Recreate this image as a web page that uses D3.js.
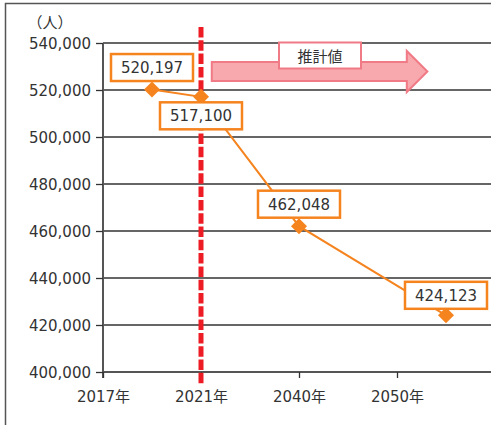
<!DOCTYPE html>
<html>
<head>
<meta charset="utf-8">
<script src="https://cdn.jsdelivr.net/npm/d3@7"></script>
<style>
  body { margin: 0; background: #fff; }
  text { font-family: "DejaVu Sans", "Noto Sans CJK JP", sans-serif; fill: #333; }
</style>
</head>
<body>
<div id="root"></div>
<script>
// データ
var tickLabels = ['2017年', '2021年', '2040年', '2050年']
var tickPos = [0, 2, 4, 6]
var pointPos = [1, 2, 4, 7]
var values = [520197, 517100, 462048, 424123]
var yTicks = [400000, 420000, 440000, 460000, 480000, 500000, 520000, 540000]

var width = 491, height = 425
var svg = d3.select('#root').append('svg')
    .attr('width', width)
    .attr('height', height)

// 外枠
svg.append('rect')
    .attr('x', 5.5).attr('y', 3.5)
    .attr('width', 600).attr('height', 600)
    .attr('fill', 'none').attr('stroke', '#555').attr('stroke-width', 1.5)

var plotLeft = 103, plotRight = 491, plotTop = 43, plotBottom = 372
var X = d3.scaleLinear().domain([0, 7]).range([plotLeft, 446])
var Y = d3.scaleLinear().domain([400000, 540000]).range([plotBottom, plotTop])

// グリッド
svg.append('g').selectAll('line')
    .data(yTicks)
    .enter().append('line')
    .attr('x1', plotLeft).attr('x2', plotRight)
    .attr('y1', function (d) { return Y(d) }).attr('y2', function (d) { return Y(d) })
    .attr('stroke', '#333').attr('stroke-width', 1.3)

// Y軸
var yAxis = svg.append('g')
    .attr('transform', 'translate(' + plotLeft + ',0)')
    .call(d3.axisLeft(Y).tickValues(yTicks).tickSize(7).tickPadding(5).tickFormat(d3.format(',')))
yAxis.select('path').attr('d', 'M0,' + plotTop + 'V' + (plotBottom + 6)).attr('stroke', '#555').attr('stroke-width', 2)
yAxis.selectAll('.tick line').attr('stroke', '#333').attr('stroke-width', 1.3)
yAxis.selectAll('.tick text').attr('font-size', 15).attr('dy', '0.36em')
    .style('font-family', '"DejaVu Sans", sans-serif').attr('fill', '#333')

// X軸
var xAxis = svg.append('g')
    .attr('transform', 'translate(0,' + plotBottom + ')')
    .call(d3.axisBottom(X).tickValues(tickPos).tickSize(6).tickPadding(13)
        .tickFormat(function (d, i) { return tickLabels[i] }))
xAxis.select('path').attr('d', 'M' + plotLeft + ',0H' + plotRight).attr('stroke', '#555').attr('stroke-width', 2)
xAxis.selectAll('.tick line').attr('stroke', '#333').attr('stroke-width', 1.3)
xAxis.selectAll('.tick text').attr('font-size', 15).attr('fill', '#333')
    .style('font-family', '"DejaVu Sans", "Noto Sans CJK JP", sans-serif')

// 単位
svg.append('text')
    .attr('x', 50).attr('y', 28)
    .attr('text-anchor', 'middle')
    .attr('font-size', 15)
    .style('font-family', '"Noto Sans CJK JP", sans-serif')
    .text('（人）')

// 推計値の矢印
var ay = 71.5, ax0 = X(2.22), ax1 = X(6.62), headX = X(6.2)
svg.append('path')
    .attr('d', 'M' + ax0 + ',' + (ay - 9.5) + 'H' + headX + 'V' + (ay - 20.5) +
        'L' + ax1 + ',' + ay + 'L' + headX + ',' + (ay + 20.5) + 'V' + (ay + 9.5) + 'H' + ax0 + 'Z')
    .attr('fill', '#f8a9ae').attr('stroke', '#f07a85').attr('stroke-width', 2)
svg.append('rect')
    .attr('x', 279).attr('y', 42.5).attr('width', 82).attr('height', 26)
    .attr('fill', '#fff').attr('stroke', '#f07a85').attr('stroke-width', 2)
svg.append('text')
    .attr('x', 320).attr('y', 62)
    .attr('text-anchor', 'middle')
    .attr('font-size', 15)
    .style('font-family', '"Noto Sans CJK JP", sans-serif')
    .text('推計値')

// 折れ線
var line = d3.line()
    .x(function (d, i) { return X(pointPos[i]) })
    .y(function (d) { return Y(d) })
svg.append('path')
    .datum(values)
    .attr('d', line)
    .attr('fill', 'none').attr('stroke', '#f5841f').attr('stroke-width', 2)

// 2021年の区切り線
svg.append('line')
    .attr('x1', X(2)).attr('x2', X(2))
    .attr('y1', 27).attr('y2', 385)
    .attr('stroke', '#ed1c24').attr('stroke-width', 5)
    .attr('stroke-dasharray', '10.5,2.8')

// マーカー
svg.append('g').selectAll('path')
    .data(values)
    .enter().append('path')
    .attr('transform', function (d, i) { return 'translate(' + X(pointPos[i]) + ',' + Y(d) + ')' })
    .attr('d', 'M0,-8L8,0L0,8L-8,0Z')
    .attr('fill', '#f5841f')

// ラベル
var labelDy = [-22, 19, -22, -20]
var lab = svg.append('g').selectAll('g')
    .data(values)
    .enter().append('g')
    .attr('transform', function (d, i) { return 'translate(' + X(pointPos[i]) + ',' + (Y(d) + labelDy[i]) + ')' })
lab.append('rect')
    .attr('x', -41).attr('y', -13.5).attr('width', 82).attr('height', 27)
    .attr('fill', '#fff').attr('stroke', '#f5841f').attr('stroke-width', 2.5)
lab.append('text')
    .attr('text-anchor', 'middle')
    .attr('dy', '0.36em')
    .attr('font-size', 15)
    .text(function (d) { return d3.format(',')(d) })
</script>
</body>
</html>
